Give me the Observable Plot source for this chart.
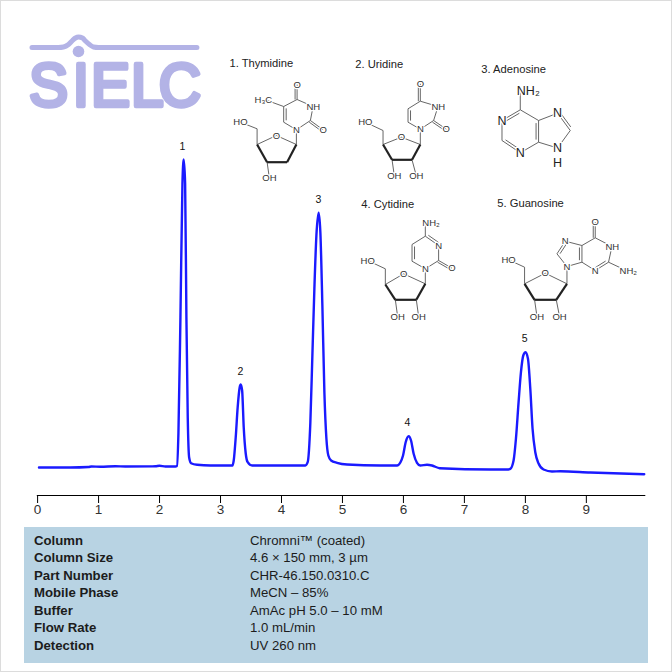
<!DOCTYPE html>
<html>
<head>
<meta charset="utf-8">
<script src="https://cdn.jsdelivr.net/npm/d3@7"></script>
<script src="https://cdn.jsdelivr.net/npm/@observablehq/plot@0.6"></script>
<style>
html,body{margin:0;padding:0;background:#fff}
#page{position:relative;width:672px;height:672px;overflow:hidden;font-family:"Liberation Sans",Arial,sans-serif}
#page svg{display:block;position:absolute;left:0;top:0}
#frame{position:absolute;inset:0;border:1px solid #dcdcdc;pointer-events:none}
#params{position:absolute;left:24px;top:527px;width:624px;height:136px;background:#b8d3e3;color:#1c1c1c;font-size:13.2px;line-height:17.55px;padding-top:4.5px;box-sizing:border-box}
#params div{display:flex}
#params b{display:block;width:216px;margin-left:10px}
</style>
</head>
<body>
<div id="page"></div>
<script>
// Chromatogram trace
const timeMin = [0.016,0.533,0.828,0.877,1.025,1.270,1.434,1.926,1.992,2.090,2.254,2.279,2.303,2.336,2.369,2.390,2.413,2.434,2.456,2.479,2.511,2.610,2.828,3.189,3.210,3.243,3.275,3.308,3.325,3.348,3.374,3.407,3.439,3.511,3.975,4.385,4.423,4.467,4.500,4.533,4.566,4.603,4.631,4.664,4.697,4.730,4.762,4.807,4.905,5.069,5.615,5.889,5.943,5.987,6.030,6.079,6.118,6.161,6.216,6.270,6.380,6.462,6.587,7.418,7.692,7.746,7.800,7.839,7.882,7.921,7.959,7.997,8.036,8.074,8.111,8.156,8.210,8.292,8.430,8.566,9.057,9.943];
const signal = [28,28,28.5,29,28.7,29.2,29,29.2,29.8,29,29,29.5,62,178,312,336,312,178,78,38,32.3,30.7,30,30,35,58.3,88.3,108.3,111,105,68.3,42,33.3,30,30,30,33.3,73.3,140,207,260,282.7,263.3,190,103.3,57,40,35,32.7,31,30,30,33,40,53.3,59.3,55,41.7,32.7,30,30.7,30,27.3,26,26,26.7,35,57,93.3,123.3,140,143.3,136.7,107,67,43.3,32,26,24,24.3,23,21.3];

const xTicks = [0,1,2,3,4,5,6,7,8,9];
const peakNames = ["1","2","3","4","5"];
const peakTimes = [2.370,3.320,4.600,6.060,7.980];
const peakLabelHeights = [349,124,296,73,157];
const compoundNames = ["1. Thymidine","2. Uridine","3. Adenosine","4. Cytidine","5. Guanosine"];
const paramNames = ["Column","Column Size","Part Number","Mobile Phase","Buffer","Flow Rate","Detection"];
const paramValues = ["Chromni™ (coated)","4.6 × 150 mm, 3 µm","CHR-46.150.0310.C","MeCN – 85%","AmAc pH 5.0 – 10 mM","1.0 mL/min","UV 260 nm"];

// Page-position helpers for the decorations (logo, structures)
const tx = px => (px - 37.5) / 61;
const ty = py => 495 - py;

// Structure drawings: atom anchors, bonds [a,b,doubleOffset], bold bonds, labels
const sugarLabels = (hoX,hoY,o1X,o2X,oY) => [["HO",hoX,hoY],["OH",o1X,oY],["OH",o2X,oY]];
const molecules = [
  {pts:{O4:[296.7,84],C4:[296.7,99],N3:[312.7,106],C2:[310,120],O2:[322.7,129.3],N1:[296,129.3],C6:[283.3,121.7],C5:[283.3,106],Me:[264,99],
        C1:[296,144],O:[276,135],C4s:[256.7,144],C3s:[266.7,161.7],C2s:[286.7,161.7],C5s:[256.7,128.3],HO:[240,121.7],OH:[269,177.7]},
   bonds:[["O4","C4",2],["C4","N3"],["N3","C2"],["C2","O2",2],["C2","N1"],["N1","C6"],["C6","C5",2.5],["C5","C4"],["C5","Me"],["C1","N1"],["C1","O"],["O","C4s"],["C4s","C5s"],["C5s","HO"],["C3s","OH"]],
   bold:[["C1","C2s"],["C2s","C3s"],["C3s","C4s"]],
   labels:[["O",296.7,84],["NH",313,106],["O",322.7,129.3],["N",296,129.3],["H₃C",263,99],["O",276,135],["HO",240,121.7],["OH",269,177.7]]},
  {pts:{O4:[420,83.3],C4:[420,100.7],N3:[437.7,106],C2:[433.3,120],O2:[446,128.7],N1:[420,128.7],C6:[407.7,121.7],C5:[407.7,108.3],
        C1:[420,144],O:[401,136.7],C4s:[382.7,144],C3s:[391.7,159.3],C2s:[411.7,159.3],C5s:[382.7,130],HO:[365,121.7],OH1:[394,175.3],OH2:[416,175.3]},
   bonds:[["O4","C4",2],["C4","N3"],["N3","C2"],["C2","O2",2],["C2","N1"],["N1","C6"],["C6","C5",2.5],["C5","C4"],["C1","N1"],["C1","O"],["O","C4s"],["C4s","C5s"],["C5s","HO"],["C3s","OH1"],["C2s","OH2"]],
   bold:[["C1","C2s"],["C2s","C3s"],["C3s","C4s"]],
   labels:[["O",420,83.3],["NH",438,106],["O",446,128.7],["N",420,128.7],["O",401,136.7],...sugarLabels(365,121.7,394,416,175.3)]},
  {pts:{NH2:[520,90],C6:[520,109.3],N1:[501.7,120],C2:[501.7,140],N3:[520,152.3],C4:[538.3,141.7],C5:[538.3,120],N7:[557.3,112.7],C8:[570,130],N9:[557.3,147.5],H:[557.3,162]},
   bonds:[["NH2","C6"],["C6","N1",-2.5],["N1","C2"],["C2","N3",-2.5],["N3","C4"],["C4","C5",-2.5],["C5","C6"],["C5","N7"],["N7","C8",-2.5],["C8","N9"],["N9","C4"]],
   bold:[],
   big:true,
   labels:[["NH₂",528,90],["N",501.7,120],["N",520,152.3],["N",557.3,112.7],["N",557.3,147.5],["H",557.3,162]]},
  {pts:{NH2:[425,222.7],C4:[425,235.7],N3:[438.3,245],C2:[438.3,260],O2:[451.7,267.7],N1:[425,268.3],C6:[411.7,260.7],C5:[411.7,244],
        C1:[425,283.3],O:[403.3,273.3],C4s:[385,284],C3s:[395,299.3],C2s:[416,299.3],C5s:[385,268.3],HO:[367.3,260],OH1:[397.3,316],OH2:[418.3,316]},
   bonds:[["NH2","C4"],["C4","N3",-2.5],["N3","C2"],["C2","O2",2],["C2","N1"],["N1","C6"],["C6","C5",2.5],["C5","C4"],["C1","N1"],["C1","O"],["O","C4s"],["C4s","C5s"],["C5s","HO"],["C3s","OH1"],["C2s","OH2"]],
   bold:[["C1","C2s"],["C2s","C3s"],["C3s","C4s"]],
   labels:[["NH₂",430.7,222.7],["N",438.3,245],["O",451.7,267.7],["N",425,268.3],["O",403.3,273.3],...sugarLabels(367.3,260,397.3,418.3,316)]},
  {pts:{O6:[595,221.7],C6:[595,237.3],N1:[611.7,246],C2:[608.3,261.7],NH2:[626,270],N3:[595,270],C4:[581.7,261.7],C5:[581.7,245],N7:[565,240.7],C8:[556.7,253.3],N9:[566.7,266],
        C1:[566.7,283.3],O:[545,272.7],C4s:[524.3,283.3],C3s:[534.3,299.3],C2s:[556,299.3],C5s:[524.3,266.7],HO:[508.3,259.3],OH1:[536.7,316],OH2:[559.3,316]},
   bonds:[["O6","C6",2],["C6","N1"],["N1","C2"],["C2","NH2"],["C2","N3",2.5],["N3","C4"],["C4","C5",-2.5],["C5","C6"],["C5","N7"],["N7","C8",-2.5],["C8","N9"],["N9","C4"],["N9","C1"],["C1","O"],["O","C4s"],["C4s","C5s"],["C5s","HO"],["C3s","OH1"],["C2s","OH2"]],
   bold:[["C1","C2s"],["C2s","C3s"],["C3s","C4s"]],
   labels:[["O",595,221.7],["NH",612,246],["NH₂",628,270],["N",595,270],["N",565,240.7],["N",566.7,266],["O",545,272.7],...sugarLabels(508.3,259.3,536.7,559.3,316)]}
];
const thinBonds = molecules.flatMap(m => m.bonds.flatMap(([a,b,off]) => {
  const [x1,y1]=m.pts[a],[x2,y2]=m.pts[b];
  const s={x1,y1,x2,y2};
  if(!off) return [s];
  const L=Math.hypot(x2-x1,y2-y1), nx=-(y2-y1)/L*off, ny=(x2-x1)/L*off;
  const t=Math.abs(off)<2.2?0:0.12;
  return [s,{x1:x1+nx+(x2-x1)*t,y1:y1+ny+(y2-y1)*t,x2:x2+nx-(x2-x1)*t,y2:y2+ny-(y2-y1)*t}];
}));
const boldBonds = molecules.flatMap(m => m.bold.map(([a,b]) => ({x1:m.pts[a][0],y1:m.pts[a][1],x2:m.pts[b][0],y2:m.pts[b][1]})));
const smallLabels = molecules.filter(m=>!m.big).flatMap(m=>m.labels);
const bigLabels = molecules.filter(m=>m.big).flatMap(m=>m.labels);
const compoundX = [229,355,481,361,497];
const compoundY = [63,64,69,204,203];

// Logo trace
const logoBarX = [31.5,58,63,68,72,75,78,82,85,89,93,98,196.5];
const logoBarY = [47,47,46.5,44,40,37.5,36.5,37.5,40.5,44,46.5,47,47];

const trace = timeMin.map((t,i)=>({t,v:signal[i]}));
const logoBar = logoBarX.map((x,i)=>({x:tx(x),y:ty(logoBarY[i])}));
const logoColor = "#b3b3e6";
const ff = '"Liberation Sans",Arial,sans-serif';

const chart = Plot.plot({
  width:672, height:520,
  marginLeft:37.5, marginRight:26, marginTop:0, marginBottom:25,
  x:{domain:[0,9.98], axis:null},
  y:{domain:[0,495], axis:null},
  style:{fontFamily:ff, background:"transparent", overflow:"visible"},
  marks:[
    // logo
    Plot.line(logoBar,{x:"x",y:"y",stroke:logoColor,strokeWidth:5,curve:"monotone-x"}),
    Plot.dot([[78,51]],{x:d=>tx(d[0]),y:d=>ty(d[1]),r:5.8,fill:logoColor}),
    Plot.text(["SIELC"],{x:tx(28.5),y:ty(105.8),text:d=>d,textAnchor:"start",lineAnchor:"bottom",fontSize:62,fill:logoColor,stroke:logoColor,strokeWidth:4.4,strokeLinejoin:"round",className:"logo"}),
    // structures
    Plot.link(thinBonds,{x1:d=>tx(d.x1),y1:d=>ty(d.y1),x2:d=>tx(d.x2),y2:d=>ty(d.y2),stroke:"#555",strokeWidth:0.9}),
    Plot.link(boldBonds,{x1:d=>tx(d.x1),y1:d=>ty(d.y1),x2:d=>tx(d.x2),y2:d=>ty(d.y2),stroke:"#222",strokeWidth:2.2}),
    Plot.text(smallLabels,{x:d=>tx(d[1]),y:d=>ty(d[2]),text:d=>d[0],fontSize:9.5,fill:"#333",stroke:"white",strokeWidth:2.5}),
    Plot.text(bigLabels,{x:d=>tx(d[1]),y:d=>ty(d[2]),text:d=>d[0],fontSize:12.5,fill:"#222",stroke:"white",strokeWidth:2.5}),
    Plot.text(compoundNames,{x:(d,i)=>tx(compoundX[i]),y:(d,i)=>ty(compoundY[i]),text:d=>d,textAnchor:"start",fontSize:11.2,fill:"#222"}),
    // peak labels
    Plot.text(peakNames,{x:(d,i)=>peakTimes[i],y:(d,i)=>peakLabelHeights[i],text:d=>d,fontSize:10.5,fill:"#111"}),
    // trace
    Plot.line(trace,{x:"t",y:"v",stroke:"#1a1aff",strokeWidth:2.4,curve:"monotone-x"}),
    // axis
    Plot.ruleY([0],{stroke:"#000",strokeWidth:1.2,dx:-0.7}),
    Plot.axisX({ticks:xTicks,tickSize:8,tickPadding:1,fontSize:13.5,stroke:"#000",color:"#333",dx:-0.4,tickFormat:d=>String(d)})
  ]
});
const page = document.getElementById("page");
page.appendChild(chart);

// per-letter adjustment of the logo wordmark
chart.querySelectorAll(".logo text").forEach(t=>{
  t.setAttribute("dx","0 5 2 1 -5");
  t.setAttribute("textLength","172");
  t.setAttribute("lengthAdjust","spacingAndGlyphs");
});

const params = document.createElement("div");
params.id = "params";
paramNames.forEach((n,i)=>{
  const row=document.createElement("div");
  const b=document.createElement("b"); b.textContent=n;
  const s=document.createElement("span"); s.textContent=paramValues[i];
  row.append(b,s); params.appendChild(row);
});
page.appendChild(params);
const frame=document.createElement("div"); frame.id="frame"; page.appendChild(frame);
</script>
</body>
</html>
